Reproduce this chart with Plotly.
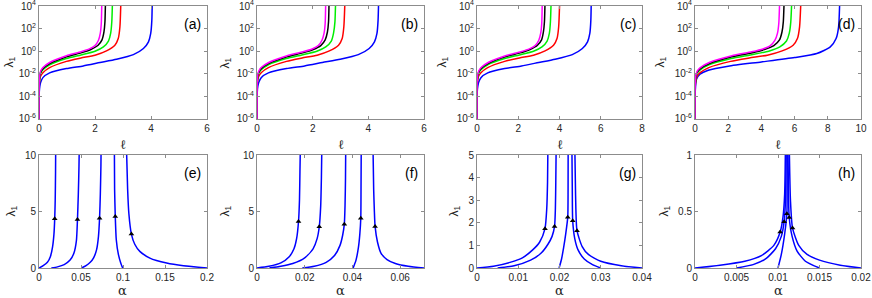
import plotly.graph_objects as go

# ---------------- data: top row (lambda_1 vs ell, log10 lambda values) ----------------
LOG_BLUE = [-7, -3.6, -3.1, -2.75, -2.34, -1.92, -1.54, -1.30, -1.0, -0.71, -0.30, 0.24, 0.83, 1.57, 2.75, 4.5]
LOG_RED = [-7, -3.0, -2.5, -2.2, -1.9, -1.45, -0.9, -0.6, -0.35, 0.03, 0.53, 1.12, 2.16, 4.5]
LOG_GREEN = [-7, -2.8, -2.25, -1.95, -1.65, -1.2, -0.65, -0.33, 0.0, 0.38, 0.9, 1.6, 2.6, 4.5]
LOG_BLACK = [-7, -2.7, -2.15, -1.85, -1.55, -1.1, -0.5, -0.15, 0.15, 0.5, 1.0, 1.7, 2.6, 4.5]
LOG_MAGENTA = [-7, -2.6, -2.05, -1.75, -1.45, -1.0, -0.4, -0.05, 0.2, 0.5, 0.95, 1.6, 2.5, 4.5]
D_LOG_BLUE = [-7, -3.4, -2.43, -2.04, -1.69, -1.33, -0.95, -0.56, -0.21, 0.38, 1.12, 2.16, 4.5]

A_BLUE = [0, 0.01, 0.03, 0.06, 0.14, 0.38, 0.98, 1.58, 2.18, 2.77, 3.37, 3.73, 3.91, 3.99, 4.03, 4.045]
A_RED = [0, 0.01, 0.03, 0.06, 0.14, 0.38, 0.98, 1.5, 2.0, 2.41, 2.71, 2.83, 2.89, 2.925]
A_GREEN = [0, 0.01, 0.03, 0.06, 0.14, 0.38, 0.98, 1.5, 2.0, 2.3, 2.48, 2.56, 2.6, 2.625]
A_BLACK = [0, 0.01, 0.03, 0.06, 0.14, 0.38, 0.98, 1.5, 1.85, 2.1, 2.25, 2.32, 2.355, 2.375]
A_MAGENTA = [0, 0.01, 0.03, 0.06, 0.14, 0.38, 0.98, 1.5, 1.8, 2.0, 2.12, 2.19, 2.225, 2.245]

B_BLUE = [0, 0.01, 0.03, 0.065, 0.15, 0.41, 1.06, 1.71, 2.35, 2.99, 3.64, 4.03, 4.22, 4.31, 4.35, 4.37]
B_RED = [0, 0.01, 0.03, 0.065, 0.15, 0.41, 1.06, 1.62, 2.16, 2.60, 2.93, 3.06, 3.12, 3.16]
B_GREEN = [0, 0.01, 0.03, 0.065, 0.15, 0.41, 1.05, 1.61, 2.15, 2.47, 2.67, 2.75, 2.80, 2.825]
B_BLACK = [0, 0.01, 0.03, 0.065, 0.15, 0.41, 1.07, 1.64, 2.02, 2.29, 2.45, 2.53, 2.57, 2.59]
B_MAGENTA = [0, 0.01, 0.03, 0.066, 0.15, 0.42, 1.08, 1.65, 1.98, 2.2, 2.33, 2.41, 2.45, 2.47]

C_BLUE = [0, 0.01, 0.04, 0.08, 0.19, 0.52, 1.34, 2.16, 2.99, 3.79, 4.62, 5.11, 5.36, 5.47, 5.52, 5.54]
C_RED = [0, 0.01, 0.04, 0.08, 0.19, 0.52, 1.34, 2.06, 2.74, 3.30, 3.71, 3.88, 3.96, 4.01]
C_GREEN = [0, 0.01, 0.04, 0.08, 0.19, 0.52, 1.34, 2.06, 2.74, 3.15, 3.40, 3.51, 3.56, 3.595]
C_BLACK = [0, 0.01, 0.04, 0.08, 0.19, 0.53, 1.36, 2.09, 2.57, 2.92, 3.13, 3.22, 3.27, 3.30]
C_MAGENTA = [0, 0.01, 0.04, 0.085, 0.2, 0.54, 1.38, 2.12, 2.54, 2.82, 2.99, 3.09, 3.14, 3.165]

D_BLUE = [0, 0.02, 0.1, 0.3, 0.8, 2.0, 4.0, 6.0, 7.34, 8.15, 8.5, 8.65, 8.72]
D_RED = [0, 0.02, 0.07, 0.13, 0.31, 0.83, 2.14, 3.27, 4.36, 5.25, 5.91, 6.17, 6.30, 6.38]
D_GREEN = [0, 0.02, 0.07, 0.13, 0.31, 0.84, 2.18, 3.33, 4.44, 5.11, 5.51, 5.68, 5.77, 5.83]
D_BLACK = [0, 0.02, 0.07, 0.14, 0.32, 0.86, 2.21, 3.39, 4.18, 4.75, 5.09, 5.24, 5.32, 5.37]
D_MAGENTA = [0, 0.02, 0.07, 0.14, 0.32, 0.86, 2.22, 3.41, 4.09, 4.54, 4.81, 4.97, 5.05, 5.10]

# ---------------- data: bottom row (lambda_1 vs alpha) ----------------
E1_A = [0, 0.005, 0.01, 0.0135, 0.0162, 0.0178, 0.0187, 0.0193, 0.0197, 0.0199]
E1_L = [0, 0.2, 0.5, 1.0, 1.9, 3.0, 4.35, 6.0, 8.5, 11]
E2_A = [0.0147, 0.022, 0.03, 0.037, 0.0415, 0.0445, 0.0458, 0.0468, 0.0476, 0.048]
E2_L = [0, 0.1, 0.3, 0.7, 1.3, 2.4, 4.3, 6.5, 9, 11]
E3_A = [0.0506, 0.056, 0.061, 0.065, 0.0685, 0.0708, 0.0721, 0.073, 0.0737, 0.074]
E3_L = [0, 0.2, 0.5, 0.9, 1.6, 2.8, 4.4, 6.5, 9, 11]
E4_A = [0.0996, 0.0975, 0.0945, 0.092, 0.0908, 0.0900, 0.0897]
E4_L = [0, 0.4, 1.2, 2.5, 4.56, 7, 11]
E5_A = [0.104, 0.1055, 0.107, 0.110, 0.114, 0.12, 0.132, 0.152, 0.172, 0.2]
E5_L = [11, 7, 4.8, 3.0, 2.1, 1.47, 0.88, 0.44, 0.2, 0]
E_MARK_A = [0.0187, 0.0458, 0.0721, 0.0908, 0.110]
E_MARK_L = [4.35, 4.3, 4.4, 4.56, 3.0]

F1_A = [0, 0.005, 0.01, 0.0135, 0.0155, 0.0166, 0.0174, 0.0178, 0.018, 0.0182]
F1_L = [0, 0.15, 0.45, 1.0, 1.7, 2.6, 4.12, 6, 8.5, 11]
F2_A = [0.0052, 0.01, 0.015, 0.02, 0.0235, 0.0252, 0.0261, 0.0267, 0.027, 0.0272]
F2_L = [0, 0.15, 0.4, 0.9, 1.7, 2.6, 3.65, 5.5, 8, 11]
F3_A = [0.019, 0.024, 0.029, 0.0325, 0.0348, 0.0359, 0.0366, 0.0369, 0.0371, 0.0372]
F3_L = [0, 0.15, 0.5, 1.1, 2.0, 2.9, 3.88, 5.5, 8, 11]
F4_A = [0.0403, 0.0415, 0.0425, 0.0431, 0.0435, 0.0436, 0.0437]
F4_L = [0, 0.7, 1.8, 3.0, 4.41, 7, 11]
F5_A = [0.0486, 0.0489, 0.0492, 0.0495, 0.0505, 0.052, 0.0545, 0.058, 0.0634, 0.07]
F5_L = [11, 7, 5, 3.68, 2.3, 1.3, 0.75, 0.4, 0.15, 0]
F_MARK_A = [0.0174, 0.0261, 0.0366, 0.0435, 0.0495]
F_MARK_L = [4.12, 3.65, 3.88, 4.41, 3.68]

G1_A = [0, 0.004, 0.008, 0.011, 0.0135, 0.0152, 0.01648, 0.0169, 0.0171, 0.0172]
G1_L = [0, 0.08, 0.25, 0.45, 0.8, 1.15, 1.74, 2.6, 3.8, 5.5]
G2_A = [0.005, 0.009, 0.013, 0.0155, 0.0172, 0.0182, 0.0188, 0.0190, 0.0191, 0.0192]
G2_L = [0, 0.1, 0.35, 0.65, 1.05, 1.4, 1.84, 2.6, 3.8, 5.5]
G3_A = [0.0199, 0.0205, 0.021, 0.0215, 0.022, 0.02208, 0.0221]
G3_L = [0, 0.4, 0.9, 1.5, 2.25, 3.5, 5.5]
G4_A = [0.0230, 0.0231, 0.0232, 0.0237, 0.0245, 0.026, 0.028, 0.03]
G4_L = [5.5, 3.5, 2.09, 1.3, 0.8, 0.4, 0.15, 0]
G5_A = [0.0237, 0.0239, 0.02424, 0.0255, 0.027, 0.03, 0.035, 0.04]
G5_L = [5.5, 3.2, 1.65, 0.95, 0.6, 0.3, 0.1, 0]
G_MARK_A = [0.01648, 0.0188, 0.022, 0.0232, 0.02424]
G_MARK_L = [1.74, 1.84, 2.25, 2.09, 1.65]

H1_A = [0, 0.003, 0.006, 0.008, 0.0095, 0.01026, 0.0106, 0.0108, 0.0109]
H1_L = [0, 0.025, 0.06, 0.11, 0.2, 0.318, 0.45, 0.65, 1.1]
H2_A = [0.005, 0.007, 0.0085, 0.0097, 0.0104, 0.01074, 0.0109, 0.011]
H2_L = [0, 0.03, 0.08, 0.17, 0.28, 0.41, 0.6, 1.1]
H3_A = [0.0100, 0.0104, 0.0108, 0.01107, 0.0111, 0.01112]
H3_L = [0, 0.12, 0.3, 0.48, 0.7, 1.1]
H4_A = [0.0112, 0.01125, 0.01135, 0.0117, 0.0123, 0.0133, 0.015]
H4_L = [1.1, 0.7, 0.447, 0.28, 0.15, 0.06, 0]
H5_A = [0.01135, 0.0115, 0.01175, 0.0125, 0.0135, 0.015, 0.0175, 0.02]
H5_L = [1.1, 0.6, 0.353, 0.2, 0.12, 0.07, 0.025, 0]
H_MARK_A = [0.01026, 0.01074, 0.01107, 0.01135, 0.01175]
H_MARK_L = [0.318, 0.41, 0.48, 0.447, 0.353]

TOP_YTICKS = [1e-6, 1e-4, 1e-2, 1e0, 1e2, 1e4]
TOP_YTICKTEXT = ["10<sup>-6</sup>", "10<sup>-4</sup>", "10<sup>-2</sup>", "10<sup>0</sup>",
                 "10<sup>2</sup>", "10<sup>4</sup>"]
PANEL_LABELS = ["(a)", "(b)", "(c)", "(d)", "(e)", "(f)", "(g)", "(h)"]

# ---------------- layout ----------------
W, H = 872, 298
AX_COLOR = "#8c8c8c"
TXT = "#262626"
FONT = "Liberation Sans, Arial, sans-serif"
COLORS = ["#0000ff", "#ff0000", "#00ee00", "#000000", "#ff00ff"]

COLS = [(39, 207), (257, 424), (477, 642), (695, 861)]
ROWS = [(6, 119), (155, 268)]
YLAB_OFF_TOP = [30, 32, 35, 35]
YLAB_OFF_BOT = [27, 31, 22, 30]

fig = go.Figure()

top_sets = [
    [(A_BLUE, LOG_BLUE), (A_RED, LOG_RED), (A_GREEN, LOG_GREEN), (A_BLACK, LOG_BLACK), (A_MAGENTA, LOG_MAGENTA)],
    [(B_BLUE, LOG_BLUE), (B_RED, LOG_RED), (B_GREEN, LOG_GREEN), (B_BLACK, LOG_BLACK), (B_MAGENTA, LOG_MAGENTA)],
    [(C_BLUE, LOG_BLUE), (C_RED, LOG_RED), (C_GREEN, LOG_GREEN), (C_BLACK, LOG_BLACK), (C_MAGENTA, LOG_MAGENTA)],
    [(D_BLUE, D_LOG_BLUE), (D_RED, LOG_RED), (D_GREEN, LOG_GREEN), (D_BLACK, LOG_BLACK), (D_MAGENTA, LOG_MAGENTA)],
]
top_xmax = [6, 6, 8, 10]

bot_sets = [
    [(E1_A, E1_L), (E2_A, E2_L), (E3_A, E3_L), (E4_A, E4_L), (E5_A, E5_L)],
    [(F1_A, F1_L), (F2_A, F2_L), (F3_A, F3_L), (F4_A, F4_L), (F5_A, F5_L)],
    [(G1_A, G1_L), (G2_A, G2_L), (G3_A, G3_L), (G4_A, G4_L), (G5_A, G5_L)],
    [(H1_A, H1_L), (H2_A, H2_L), (H3_A, H3_L), (H4_A, H4_L), (H5_A, H5_L)],
]
bot_marks = [(E_MARK_A, E_MARK_L), (F_MARK_A, F_MARK_L), (G_MARK_A, G_MARK_L), (H_MARK_A, H_MARK_L)]
bot_xrange = [[0, 0.2], [0, 0.07], [0, 0.04], [0, 0.02]]
bot_xticks = [[0, 0.05, 0.1, 0.15, 0.2], [0, 0.02, 0.04, 0.06], [0, 0.01, 0.02, 0.03, 0.04],
              [0, 0.005, 0.01, 0.015, 0.02]]
bot_yrange = [[0, 10], [0, 10], [0, 5], [0, 1]]
bot_yticks = [[0, 5, 10], [0, 5, 10], [0, 1, 2, 3, 4, 5], [0, 0.5, 1]]

layout = dict(width=W, height=H, margin=dict(l=0, r=0, t=0, b=0, autoexpand=False),
              paper_bgcolor="white", plot_bgcolor="white", showlegend=False,
              font=dict(family=FONT, size=10, color=TXT))
annotations = []

def axis_common():
    return dict(showline=True, linecolor=AX_COLOR, linewidth=1, mirror="ticks", ticks="inside",
                ticklen=3, tickcolor=AX_COLOR, showgrid=False, zeroline=False, automargin=False,
                ticklabeloverflow="allow",
                tickfont=dict(family=FONT, size=10, color=TXT))

idx = 0
for r in range(2):
    for c in range(4):
        idx += 1
        xa = "xaxis" if idx == 1 else f"xaxis{idx}"
        ya = "yaxis" if idx == 1 else f"yaxis{idx}"
        xr = "x" if idx == 1 else f"x{idx}"
        yr = "y" if idx == 1 else f"y{idx}"
        l, rgt = COLS[c]
        t, b = ROWS[r]
        xdom = [l / W, rgt / W]
        ydom = [1 - b / H, 1 - t / H]
        xax = axis_common()
        yax = axis_common()
        xax.update(domain=xdom, anchor=yr)
        yax.update(domain=ydom, anchor=xr)
        if r == 0:
            xax.update(range=[0, top_xmax[c]], tickvals=list(range(0, top_xmax[c] + 1, 2)))
            yax.update(type="log", range=[-6.0005, 4.0005], tickvals=TOP_YTICKS, ticktext=TOP_YTICKTEXT)
            for k, (xs, lg) in enumerate(top_sets[c]):
                fig.add_trace(go.Scatter(x=xs, y=[10 ** v for v in lg], mode="lines",
                                         line=dict(color=COLORS[k], width=1.5, shape="spline", smoothing=0.6),
                                         xaxis=xr, yaxis=yr, hoverinfo="skip"))
            xlabel = "ℓ"
            xlab_y = 144
            ylab_off = YLAB_OFF_TOP[c]
        else:
            xax.update(range=bot_xrange[c], tickvals=bot_xticks[c],
                       ticktext=[("%g" % v) for v in bot_xticks[c]])
            yax.update(range=bot_yrange[c], tickvals=bot_yticks[c],
                       ticktext=[("%g" % v) for v in bot_yticks[c]])
            for k, (xs, ys) in enumerate(bot_sets[c]):
                fig.add_trace(go.Scatter(x=xs, y=ys, mode="lines",
                                         line=dict(color="#0000ff", width=1.5, shape="spline", smoothing=0.6),
                                         xaxis=xr, yaxis=yr, hoverinfo="skip"))
            ma, ml = bot_marks[c]
            fig.add_trace(go.Scatter(x=ma, y=ml, mode="markers",
                                     marker=dict(symbol="triangle-up", size=5, color="black"),
                                     xaxis=xr, yaxis=yr, hoverinfo="skip", cliponaxis=False))
            xlabel = "α"
            xlab_y = 290
            ylab_off = YLAB_OFF_BOT[c]
        layout[xa] = xax
        layout[ya] = yax
        annotations.append(dict(text=xlabel, xref="paper", yref="paper",
                                x=(l + rgt) / 2 / W, y=1 - xlab_y / H, xanchor="center", yanchor="middle",
                                showarrow=False, font=dict(family="DejaVu Serif, serif", size=13, color=TXT)))
        annotations.append(dict(text="λ<sub>1</sub>", xref="paper", yref="paper",
                                x=(l - ylab_off) / W, y=1 - (t + b) / 2 / H, xanchor="center", yanchor="middle",
                                textangle=-90, showarrow=False,
                                font=dict(family=FONT, size=12, color=TXT)))
        annotations.append(dict(text=PANEL_LABELS[idx - 1], xref="paper", yref="paper",
                                x=(rgt - 4) / W, y=1 - (t + 8) / H, xanchor="right", yanchor="top",
                                showarrow=False, font=dict(family=FONT, size=14, color="#000000")))

layout["annotations"] = annotations
fig.update_layout(**layout)
fig.write_html("out.html", config={"displayModeBar": False},
               post_script="document.body.style.margin='0';document.body.style.padding='0';document.body.style.overflow='hidden';")
